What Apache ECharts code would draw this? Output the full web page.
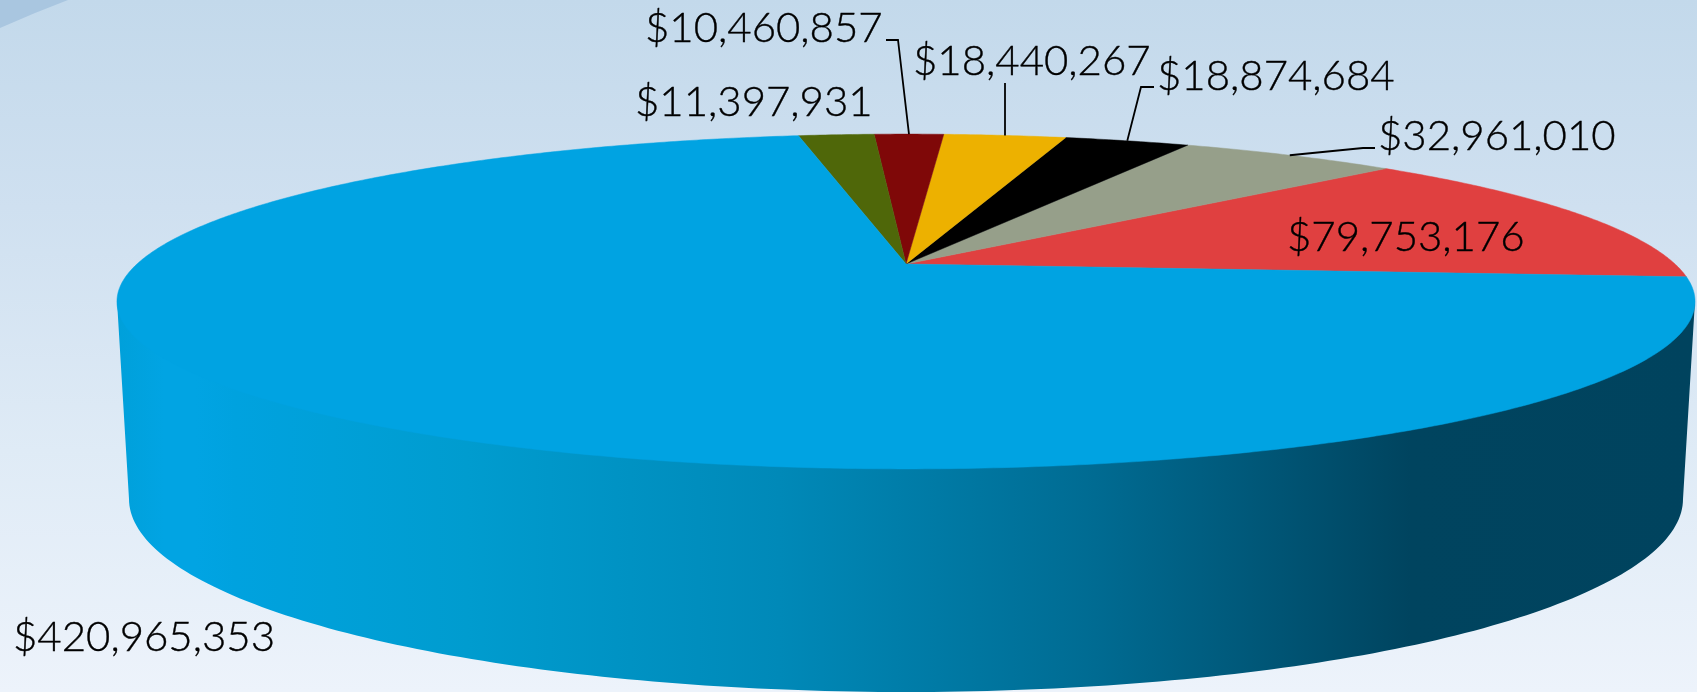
<!DOCTYPE html>
<html>
<head>
<meta charset="utf-8">
<title>Pie</title>
<style>
  html, body { margin: 0; padding: 0; }
  #chart { width: 1697px; height: 692px; }
</style>
<script src="https://cdn.jsdelivr.net/npm/echarts@6/dist/echarts.min.js"></script>
</head>
<body>
<div id="chart"></div>
<script>
// values in slice order, going counter-clockwise from the red/blue edge
const sliceNames = ["Red", "Grey", "Black", "Yellow", "Dark red", "Olive", "Blue"];
const sliceValues = [79753176, 32961010, 18874684, 18440267, 10460857, 11397931, 420965353];
const sliceColors = ["#e04040", "#969f8a", "#000000", "#edb100", "#7f0808", "#4f6709", "#00a3e2"];

// label anchor (left, middle) per slice
const labelPos = [
  [1287, 237], [1378, 136], [1157, 76], [913, 61], [645, 28], [635, 102], [13, 637]
];
// elbow points of the leader lines, rim point is added from the slice angle
const leaderPoints = [
  null,
  [[1375, 148], [1363, 148]],
  [[1154, 87], [1141, 87]],
  [[1005, 83]],
  [[886, 40], [898, 40]],
  null,
  null
];

const total = sliceValues.reduce((a, b) => a + b, 0);
const startAngle = -4.55; // degrees, below the horizontal on the right

// perspective disc: apex at cx,cy
const cx = 906, cy = 264, a = 769, b = 159, k = 0.224;
// bottom rim of the side wall
const wall = { topY: 301, topRx: 789, botY: 499, botRx: 777, botRy: 193 };

function rim(deg, r) {
  const t = (deg * Math.PI) / 180;
  const u = r * Math.cos(t), v = -r * Math.sin(t);
  const w = 1 - k * v;
  return [cx + (a * u) / w, cy + (b * v) / w];
}

function sliceAngles(i) {
  let sum = 0;
  for (let j = 0; j < i; j++) sum += sliceValues[j];
  return [startAngle + (sum / total) * 360, startAngle + ((sum + sliceValues[i]) / total) * 360];
}

function money(v) {
  return "$" + String(v).replace(/\B(?=(\d{3})+$)/g, ",");
}

function renderSlice(params, api) {
  const i = params.dataIndex;
  const ang = sliceAngles(i);
  const pts = [[cx, cy]];
  const n = Math.max(8, Math.ceil((ang[1] - ang[0]) * 2));
  for (let s = 0; s <= n; s++) pts.push(rim(ang[0] + ((ang[1] - ang[0]) * s) / n, 1));
  const color = sliceColors[i];
  const children = [{
    type: "polygon",
    shape: { points: pts },
    style: { fill: color, stroke: color, lineWidth: 0.5 }
  }];
  return { type: "group", children: children };
}

function renderWall() {
  const pts = [[cx - wall.topRx, wall.topY]];
  for (let s = 0; s <= 180; s++) {
    const t = ((180 - s) * Math.PI) / 180;
    pts.push([cx + wall.botRx * Math.cos(t), wall.botY + wall.botRy * Math.sin(t)]);
  }
  pts.push([cx + wall.topRx, wall.topY]);
  return {
    type: "polygon",
    shape: { points: pts },
    style: {
      fill: new echarts.graphic.LinearGradient(0, 0, 1, 0, [
        { offset: 0, color: "#00a0da" },
        { offset: 0.03, color: "#01a4e3" },
        { offset: 0.05, color: "#01a4e3" },
        { offset: 0.075, color: "#00a2df" },
        { offset: 0.137, color: "#00a0d8" },
        { offset: 0.222, color: "#009ccf" },
        { offset: 0.42, color: "#0089b8" },
        { offset: 0.62, color: "#006b92" },
        { offset: 0.82, color: "#00445f" },
        { offset: 1, color: "#00435e" }
      ])
    }
  };
}

function renderLabel(params, api) {
  const i = params.dataIndex;
  const ang = sliceAngles(i);
  const children = [{
    type: "text",
    style: {
      x: labelPos[i][0],
      y: labelPos[i][1],
      text: money(api.value(0)),
      fill: "#000000",
      stroke: "#000000",
      lineWidth: 0.4,
      font: "300 42px Lato, 'Open Sans', sans-serif",
      align: "left",
      verticalAlign: "middle"
    }
  }];
  if (leaderPoints[i]) {
    const line = leaderPoints[i].concat([rim((ang[0] + ang[1]) / 2, 1)]);
    children.push({
      type: "polyline",
      shape: { points: line },
      style: { fill: null, stroke: "#000000", lineWidth: 1.8 }
    });
  }
  return { type: "group", children: children };
}

const chart = echarts.init(document.getElementById("chart"), null, { renderer: "canvas" });
chart.setOption({
  animation: false,
  backgroundColor: new echarts.graphic.LinearGradient(0, 0, 0, 1, [
    { offset: 0, color: "#c3d9eb" },
    { offset: 0.3, color: "#cfe0f0" },
    { offset: 0.65, color: "#dfebf6" },
    { offset: 1, color: "#edf3fb" }
  ]),
  graphic: [{
    type: "polygon",
    z: 0,
    shape: { points: [[0, 0], [68, 0], [35, 13], [0, 28]] },
    style: { fill: "#a9c6e0" }
  }],
  tooltip: { show: false },
  series: [
    {
      type: "custom",
      coordinateSystem: "none",
      silent: true,
      z: 1,
      data: [0],
      renderItem: renderWall
    },
    {
      type: "custom",
      coordinateSystem: "none",
      silent: true,
      z: 2,
      data: sliceValues.map((v, i) => ({ name: sliceNames[i], value: v })),
      renderItem: renderSlice
    },
    {
      type: "custom",
      coordinateSystem: "none",
      silent: true,
      z: 3,
      data: sliceValues.map((v, i) => ({ name: sliceNames[i], value: v })),
      renderItem: renderLabel
    }
  ]
});
</script>
</body>
</html>
